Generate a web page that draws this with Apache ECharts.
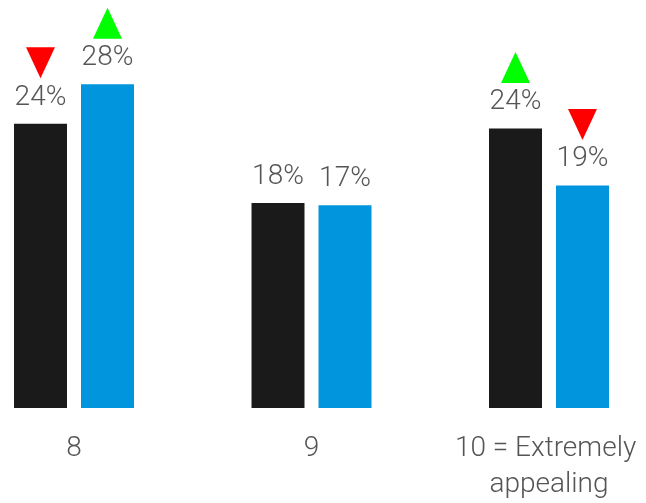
<!DOCTYPE html>
<html><head><meta charset="utf-8">
<script src="https://cdn.jsdelivr.net/npm/echarts@6/dist/echarts.min.js"></script>
<style>html,body{margin:0;padding:0;background:#fff}#c{width:646px;height:503px}</style>
</head><body><div id="c"></div>
<script>
var categories = ['8', '9', '10 = Extremely appealing'];
var seriesA = [24.4, 17.6, 24.0];
var seriesB = [27.8, 17.4, 19.1];
var arrowsA = ['down', null, 'up'];
var arrowsB = ['up', null, 'down'];

var FONT = 'Roboto';
function marks(vals, arrows) {
  var out = [];
  arrows.forEach(function (a, i) {
    if (!a) return;
    out.push({
      coord: [i, vals[i]],
      symbol: 'triangle',
      symbolSize: [29, 31],
      symbolRotate: a === 'down' ? 180 : 0,
      symbolOffset: [0, -61],
      itemStyle: { color: a === 'down' ? '#ff0000' : '#00ff00' },
      label: { show: false }
    });
  });
  return out;
}
function barSeries(name, vals, arrows, color) {
  return {
    name: name, type: 'bar', data: vals, barWidth: 53, barGap: '26.4%',
    itemStyle: { color: color },
    label: {
      show: true, position: 'top', distance: 12,
      fontFamily: FONT, fontWeight: 300, fontSize: 28, color: '#555',
      formatter: function (p) { return Math.round(p.value) + '%'; }
    },
    markPoint: { silent: true, animation: false, data: marks(vals, arrows) },
    animation: false
  };
}
var chart = echarts.init(document.getElementById('c'));
chart.setOption({
  animation: false,
  grid: { left: 74, right: 97, top: 58.5, bottom: 95, containLabel: false, outerBoundsMode: 'none' },
  xAxis: {
    type: 'category', data: categories, boundaryGap: false,
    axisLine: { show: false }, axisTick: { show: false },
    axisLabel: {
      margin: 23, fontFamily: FONT, fontWeight: 300, fontSize: 28, color: '#555',
      lineHeight: 36, width: 230, overflow: 'break', interval: 0,
      hideOverlap: false
    }
  },
  yAxis: { type: 'value', min: 0, max: 30, show: false, splitLine: { show: false } },
  series: [
    barSeries('A', seriesA, arrowsA, '#1a1a1a'),
    barSeries('B', seriesB, arrowsB, '#0095dc')
  ]
});
</script></body></html>
